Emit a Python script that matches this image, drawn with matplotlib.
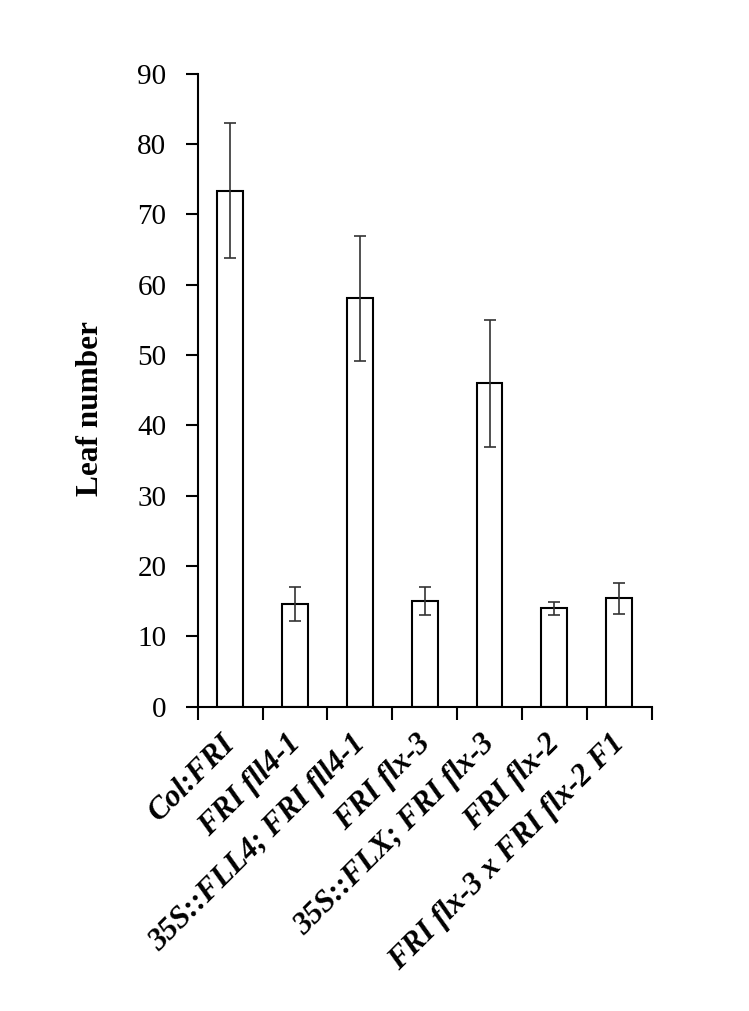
import numpy as np
import matplotlib
matplotlib.use("Agg")
import matplotlib.pyplot as plt
import matplotlib.transforms as mtransforms

plt.rcParams['font.family'] = ['Liberation Serif', 'DejaVu Serif']

# Datos
lineas = ["Col:FRI", "FRI fll4-1", "35S::FLL4; FRI fll4-1", "FRI flx-3",
          "35S::FLX; FRI flx-3", "FRI flx-2", "FRI flx-3 x FRI flx-2 F1"]
hojas = [73.4, 14.6, 58.1, 15.0, 46.0, 14.0, 15.4]
error = [9.6, 2.4, 8.9, 2.0, 9.0, 0.9, 2.2]

fig = plt.figure(figsize=(7.49, 10.11), dpi=100)
ax = fig.add_axes([0.264, 0.301, 0.606, 0.626])

x = np.arange(len(lineas))
ax.bar(x, hojas, width=0.4, color="white", edgecolor="black", linewidth=1.5, zorder=2)
ax.errorbar(x, hojas, yerr=error, fmt="none", ecolor="#333333", elinewidth=1.2,
            capsize=4.5, capthick=1.2, zorder=3)

ax.set_xlim(-0.5, len(lineas) - 0.5)
ax.set_ylim(0, 90)
ax.set_yticks(range(0, 91, 10))

# etiquetas en el centro, marcas en los límites de cada categoría
ax.set_xticks(x)
ax.set_xticklabels(lineas, rotation=45, ha="right", rotation_mode="anchor",
                   fontsize=22.5, fontweight="bold", fontstyle="italic")
ax.set_xticks(np.arange(-0.5, len(lineas)), minor=True)
ax.tick_params(axis="x", which="major", length=0, pad=14)
ax.tick_params(axis="x", which="minor", length=9, width=1.5, direction="out")
ax.tick_params(axis="y", length=9, width=1.5, direction="out", labelsize=21, pad=13.5)

desplazamiento = mtransforms.ScaledTranslation(-9 / 100, -3 / 100, fig.dpi_scale_trans)
for etiqueta in ax.get_xticklabels():
    etiqueta.set_transform(etiqueta.get_transform() + desplazamiento)

for s in ["top", "right"]:
    ax.spines[s].set_visible(False)
for s in ["left", "bottom"]:
    ax.spines[s].set_linewidth(1.5)

ax.set_ylabel("Leaf number", fontsize=22.5, fontweight="bold")
ax.yaxis.set_label_coords(-0.205, 0.471)

plt.savefig("out.png", dpi=100)
